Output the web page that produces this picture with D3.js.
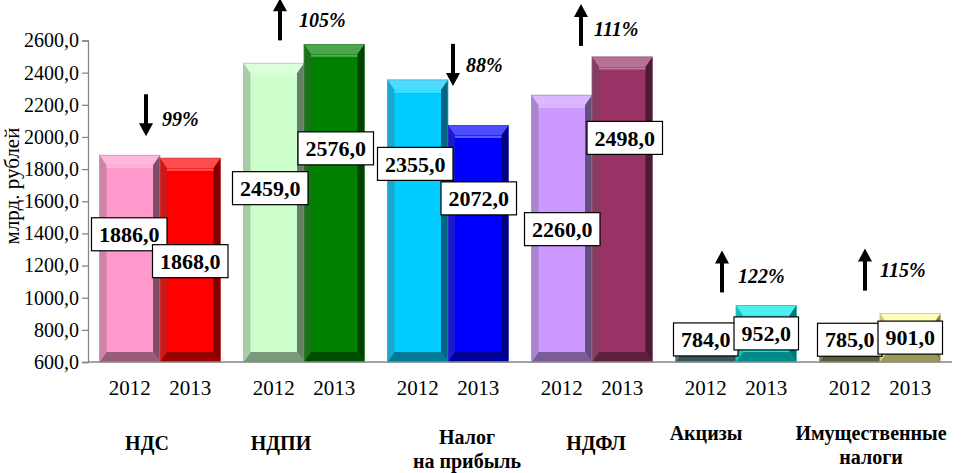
<!DOCTYPE html>
<html><head><meta charset="utf-8">
<script src="https://cdn.jsdelivr.net/npm/d3@7"></script>
<style>
html,body{margin:0;padding:0;background:#fff;}
svg{display:block;}
</style></head>
<body>
<svg id="chart" width="961" height="473"></svg>
<script>
// ---- data ----
const categories = ["НДС", "НДПИ", "Налог на прибыль", "НДФЛ", "Акцизы", "Имущественные налоги"];
const categoryLines = [["НДС"], ["НДПИ"], ["Налог", "на прибыль"], ["НДФЛ"], ["Акцизы"], ["Имущественные", "налоги"]];
const years = ["2012", "2013"];
const values2012 = [1886, 2459, 2355, 2260, 784, 785];
const values2013 = [1868, 2576, 2072, 2498, 952, 901];
const changeLabels = ["99%", "105%", "88%", "111%", "122%", "115%"];
const changeDirection = ["down", "up", "down", "up", "up", "up"];
const yTicks = [600, 800, 1000, 1200, 1400, 1600, 1800, 2000, 2200, 2400, 2600];
const yTitle = "млрд. рублей";

// ---- style / layout ----
const colors2012 = ["#FF99CC", "#CCFFCC", "#00CCFF", "#CC99FF", "#5F8F8F", "#999966"];
const colors2013 = ["#FF0000", "#008000", "#0000FF", "#993366", "#00E8E8", "#FFFF99"];
const labelOff2012 = [[-0.5, 79], [-3.5, 125], [-2.5, 84], [0.5, 134], [0, 7], [0, 7.5]];
const labelOff2013 = [[0, 103], [1.5, 104], [0.5, 73], [2.5, 81], [0, 28], [0, 24]];
const arrowDx = [-14, -24, 5, -11, -14, -15];
const arrowBottomDy = [-19, -4, 6, -11, -13, -23];
const pctDx = [16, 19, 13, 13, 16, 15];
const pctDy = [3.5, 0.5, 0.5, 4.5, 5, 0];
const catDx = [-13, -23, 19, 4, -30, -9];
const catDy = [81, 81, 75, 81, 71, 71];

(function () {
const svg = d3.select("#chart");
const pLeft = 88, pRight = 952, pTop = 40.5, pBottom = 362;
const serif = "Liberation Serif";

const y = d3.scaleLinear().domain([600, 2600]).range([pBottom, pTop]);
const x0 = d3.scaleBand().domain(categories).range([pLeft, pRight]).paddingInner(0).paddingOuter(0);
const x1 = d3.scaleBand().domain(years).range([0, x0.bandwidth()]).paddingInner(0).paddingOuter(0.19);

const fmt = v => d3.format(".1f")(v).replace(".", ",");

// axis
const yAxis = d3.axisLeft(y).tickValues(yTicks).tickFormat(fmt).tickSize(6).tickPadding(3);
const gy = svg.append("g").attr("transform", `translate(${pLeft},0)`).call(yAxis);
gy.attr("font-family", null).attr("font-size", null);
gy.select(".domain").attr("stroke", "#868686").attr("stroke-width", 1.3);
gy.selectAll(".tick line").attr("stroke", "#868686").attr("stroke-width", 1.3);
gy.selectAll(".tick text").style("font-family", serif).style("font-size", "20px").attr("fill", "#000");

// bars data
const bars = [];
categories.forEach((c, i) => {
  bars.push({cat: c, i, year: "2012", v: values2012[i], color: colors2012[i], off: labelOff2012[i]});
  bars.push({cat: c, i, year: "2013", v: values2013[i], color: colors2013[i], off: labelOff2013[i]});
});

const mix = (c, t, k) => d3.interpolateRgb(c, t)(k);

const gb = svg.append("g");
bars.forEach(b => {
  const bx0 = x0(b.cat) + x1(b.year), bx1 = bx0 + x1.bandwidth();
  const by0 = y(b.v), by1 = y(600);
  const h = by1 - by0;
  const bs = 7, bt = Math.min(10, h / 2.5);
  const g = gb.append("g");
  g.append("rect").attr("x", bx0).attr("y", by0).attr("width", bx1 - bx0).attr("height", h).attr("fill", b.color);
  const poly = (pts, fill) => g.append("polygon").attr("points", pts.map(p => p.join(",")).join(" ")).attr("fill", fill);
  poly([[bx0, by0], [bx1, by0], [bx1 - bs, by0 + bt], [bx0 + bs, by0 + bt]], mix(b.color, "#fff", 0.3));
  poly([[bx0, by1], [bx1, by1], [bx1 - bs, by1 - bt], [bx0 + bs, by1 - bt]], mix(b.color, "#000", 0.4));
  poly([[bx0, by0], [bx0 + bs, by0 + bt], [bx0 + bs, by1 - bt], [bx0, by1]], mix(b.color, "#555", 0.3));
  poly([[bx1, by0], [bx1 - bs, by0 + bt], [bx1 - bs, by1 - bt], [bx1, by1]], mix(b.color, "#000", 0.5));
  g.append("line").attr("x1", bx0 + bs).attr("x2", bx1 - bs).attr("y1", by0 + bt + 1.5).attr("y2", by0 + bt + 1.5)
    .attr("stroke", mix(b.color, "#fff", 0.35)).attr("stroke-width", 2);
  g.append("rect").attr("x", bx0).attr("y", by0).attr("width", bx1 - bx0).attr("height", h)
    .attr("fill", "none").attr("stroke", mix(b.color, "#888", 0.5)).attr("stroke-width", 0.8);
  b.cx = (bx0 + bx1) / 2; b.top = by0;
});

// x axis line
svg.append("line").attr("x1", pLeft).attr("x2", pRight).attr("y1", pBottom).attr("y2", pBottom)
  .attr("stroke", "#868686").attr("stroke-width", 1.3);

// year labels
svg.append("g").selectAll("text").data(bars).join("text")
  .attr("x", d => d.cx).attr("y", pBottom + 26).attr("dy", "0.35em")
  .attr("text-anchor", "middle").style("font-family", serif).style("font-size", "21px")
  .text(d => d.year);

// category labels
categories.forEach((c, i) => {
  const cx = x0(c) + x0.bandwidth() / 2 + catDx[i];
  const t = svg.append("text").attr("text-anchor", "middle").style("font-family", serif)
    .style("font-size", "20px").style("font-weight", "bold");
  categoryLines[i].forEach((ln, k) => {
    t.append("tspan").attr("x", cx).attr("y", pBottom + catDy[i] + k * 24).attr("dy", "0.35em").text(ln);
  });
});

// value labels
const gl = svg.append("g");
bars.forEach(b => {
  const cx = b.cx + b.off[0], cy = b.top + b.off[1];
  const g = gl.append("g");
  const r = g.append("rect").attr("fill", "#fff").attr("stroke", "#000").attr("stroke-width", 1.2);
  const t = g.append("text").attr("x", cx).attr("y", cy).attr("dy", "0.35em").attr("text-anchor", "middle")
    .style("font-family", serif).style("font-size", "22px").style("font-weight", "bold").text(fmt(b.v));
  const w = t.node().getComputedTextLength() + 15, hh = 33;
  r.attr("x", cx - w / 2).attr("y", cy - hh / 2).attr("width", w).attr("height", hh);
});

// change arrows and percentages
const ga = svg.append("g");
categories.forEach((c, i) => {
  const gc = x0(c) + x0.bandwidth() / 2;
  const ax = gc + arrowDx[i];
  const maxTop = Math.min(y(values2012[i]), y(values2013[i]));
  const yb = maxTop + arrowBottomDy[i], yt = yb - 42;
  const headH = 13, headW = 7;
  if (changeDirection[i] === "up") {
    ga.append("line").attr("x1", ax).attr("x2", ax).attr("y1", yt + headH - 1).attr("y2", yb).attr("stroke", "#000").attr("stroke-width", 4);
    ga.append("polygon").attr("points", `${ax},${yt} ${ax - headW},${yt + headH} ${ax + headW},${yt + headH}`).attr("fill", "#000");
  } else {
    ga.append("line").attr("x1", ax).attr("x2", ax).attr("y1", yt).attr("y2", yb - headH + 1).attr("stroke", "#000").attr("stroke-width", 4);
    ga.append("polygon").attr("points", `${ax},${yb} ${ax - headW},${yb - headH} ${ax + headW},${yb - headH}`).attr("fill", "#000");
  }
  ga.append("text").attr("x", ax + pctDx[i]).attr("y", (yt + yb) / 2 + pctDy[i]).attr("dy", "0.35em")
    .style("font-family", serif).style("font-size", "20px").style("font-weight", "bold").style("font-style", "italic")
    .text(changeLabels[i]);
});

// y title
svg.append("text").attr("transform", `translate(12,186) rotate(-90)`).attr("dy", "0.35em")
  .attr("text-anchor", "middle").style("font-family", serif).style("font-size", "21px").text(yTitle);
})();
</script>
</body></html>
